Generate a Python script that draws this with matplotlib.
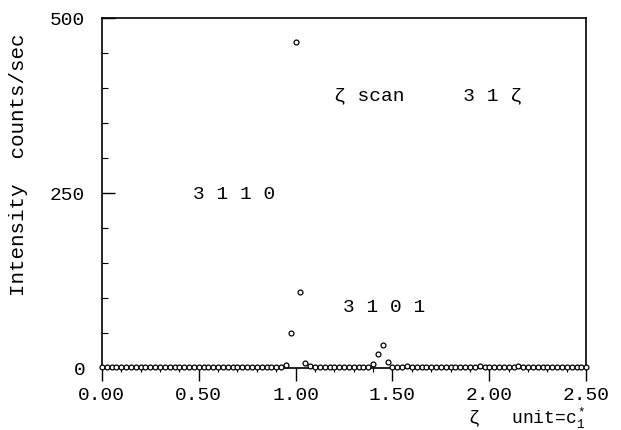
import numpy as np
import matplotlib
matplotlib.use("Agg")
import matplotlib.pyplot as plt
from matplotlib.ticker import MultipleLocator

plt.rcParams['font.family'] = ['Liberation Mono', 'DejaVu Sans Mono']
plt.rcParams['mathtext.fontset'] = 'custom'
plt.rcParams['mathtext.rm'] = 'Liberation Mono'
plt.rcParams['mathtext.it'] = 'Liberation Mono'

# zeta scan 3 1 zeta, step 0.025 from 0.00 to 2.50
zeta = np.arange(101) * 0.025
counts = [
    2, 2, 1, 2, 2, 2, 1, 2, 2, 1,
    2, 2, 2, 1, 2, 2, 1, 2, 1, 2,
    2, 2, 1, 2, 2, 2, 2, 1, 2, 2,
    2, 1, 2, 2, 2, 2, 1, 2, 4, 50,
    465, 108, 7, 3, 2, 2, 1, 2, 2, 2,
    2, 2, 1, 2, 2, 2, 5, 20, 33, 8,
    2, 2, 2, 3, 2, 1, 1, 2, 2, 2,
    2, 2, 2, 2, 2, 2, 2, 2, 3, 2,
    2, 2, 2, 2, 2, 2, 3, 2, 2, 2,
    2, 2, 2, 2, 2, 2, 2, 2, 2, 2,
    2,
]

xticks = [0.0, 0.5, 1.0, 1.5, 2.0, 2.5]
xticklabels = ["0.00", "0.50", "1.00", "1.50", "2.00", "2.50"]
yticks = [0, 250, 500]

fig = plt.figure(figsize=(6.21, 4.31), dpi=100)
ax = fig.add_axes([0.164, 0.144, 0.780, 0.812])

ax.plot(zeta, counts, linestyle='none', marker='o', markersize=3.5,
        markerfacecolor='white', markeredgecolor='black',
        markeredgewidth=0.9, clip_on=False, zorder=3)

ax.set_xlim(0, 2.5)
ax.set_ylim(0, 500)
ax.set_xticks(xticks)
ax.set_xticklabels(xticklabels)
ax.xaxis.set_minor_locator(MultipleLocator(0.1))
ax.set_yticks(yticks)
ax.yaxis.set_minor_locator(MultipleLocator(50))
ax.tick_params(axis='x', which='major', direction='out', length=9,
               width=1, labelsize=14, pad=4)
ax.tick_params(axis='x', which='minor', direction='out', length=3, width=0.8)
ax.tick_params(axis='y', which='major', direction='in', length=9,
               width=1, labelsize=14, pad=12)
ax.tick_params(axis='y', which='minor', direction='in', length=4, width=0.8)
for s in ax.spines.values():
    s.set_linewidth(1.2)

ax.set_ylabel("Intensity  counts/sec", fontsize=15)
ax.yaxis.set_label_coords(-0.152, 0.583)

ax.text(1.20, 390, "ζ scan     3 1 ζ", fontsize=14, va='center')
ax.text(0.47, 249, "3 1 1 0", fontsize=14, va='center')
ax.text(1.245, 88, "3 1 0 1", fontsize=14, va='center')

fig.text(0.943, 0.03, r"ζ   unit=c$_1^*$", fontsize=13, ha='right',
         va='center')

fig.savefig("out.png", dpi=100)
